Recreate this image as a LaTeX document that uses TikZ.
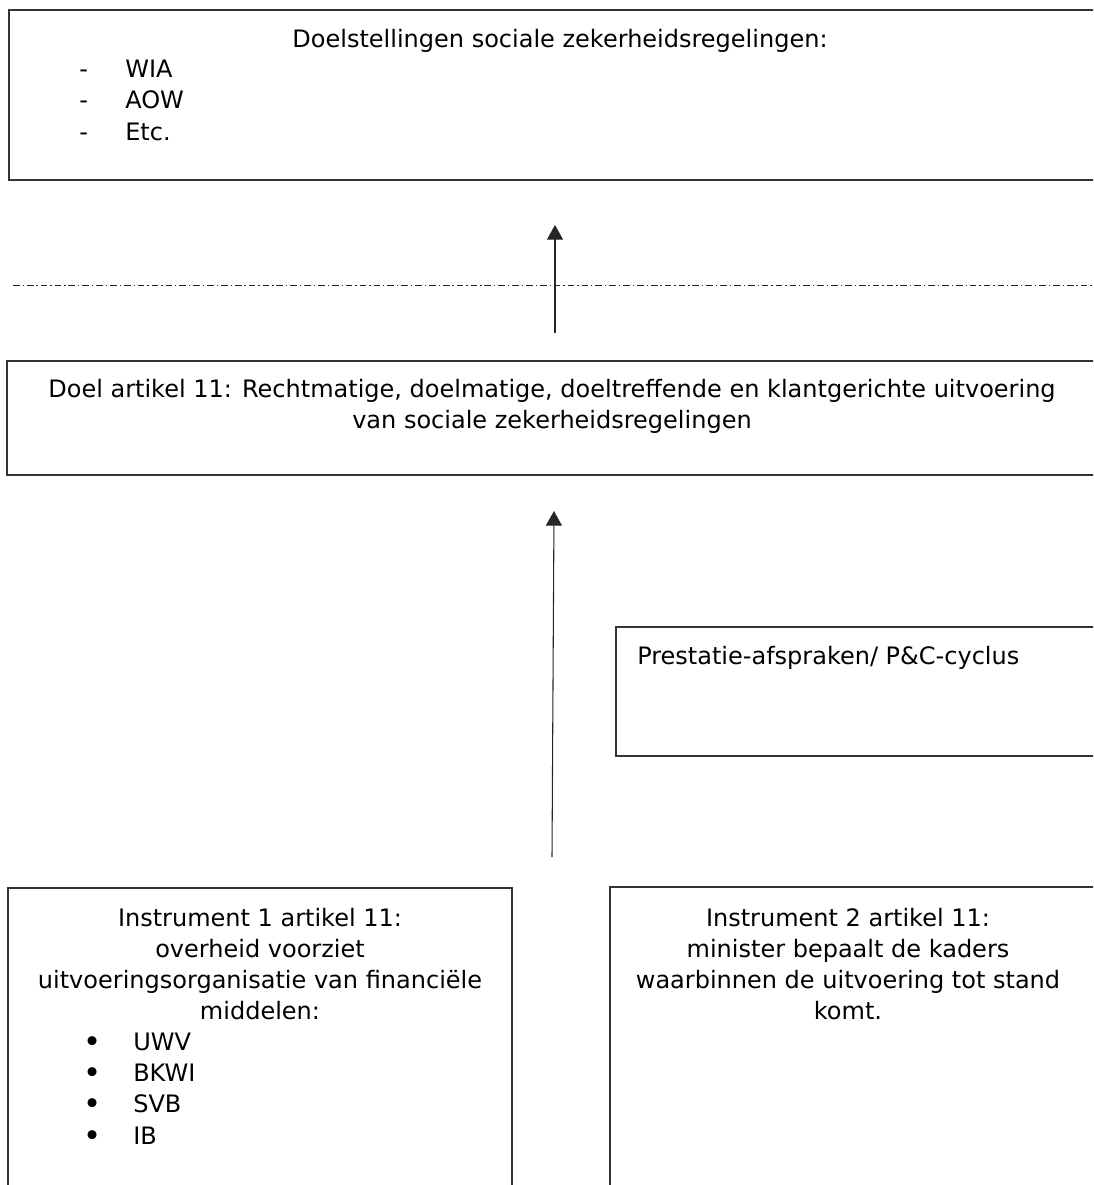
\documentclass[tikz,border=0pt]{standalone}
\usepackage{fontspec}
\setmainfont{DejaVu Sans}
\usetikzlibrary{arrows.meta,fit,positioning}

\begin{document}
\begin{tikzpicture}
    [x=0.75pt,y=-0.75pt,
     box/.style={draw=black!80,line width=0.8pt,rectangle,inner sep=0pt},
     txt/.style={font=\fontsize{18}{23.5}\selectfont,inner sep=0pt,anchor=base},
     lefttxt/.style={txt,anchor=base west},
     dot/.style={lefttxt,font=\fontsize{23}{23.5}\selectfont},
     up/.style={draw=black!85,line width=0.8pt,-{Triangle[width=12pt,length=11pt]}},
     sepline/.style={draw=black!85,line width=0.7pt,
       dash pattern=on 5pt off 2.2pt on 1pt off 2.2pt}]
    \useasboundingbox (0,0) rectangle (1093,1185);
    \clip (0,0) rectangle (1093,1185);

    % boxes
    \node[box,fit={(9,10)(1111,180)}] (goals) {};
    \node[box,fit={(7,361)(1098,475)}] (aim) {};
    \node[box,fit={(616,627)(1110,756)}] (pc) {};
    \node[box,fit={(8,888)(512,1200)}] (instr1) {};
    \node[box,fit={(610,887)(1110,1200)}] (instr2) {};

    % top box
    \node[txt] (goals title) at (560,47) {Doelstellingen sociale zekerheidsregelingen:};
    \foreach \name [count=\i] in {WIA,AOW,Etc.} {
      \node[lefttxt] (goals dash \i) at (79,{45.3+31.7*\i}) {-};
      \node[lefttxt] (goals item \i) at (125,{45.3+31.7*\i}) {\name};
    }

    % separator
    \coordinate (sep west) at (13,285);
    \coordinate (sep east) at (1100,285);
    \draw[sepline] (sep west) -- (sep east);

    % middle box
    \node[txt] (aim line 1) at (552,397)
      {Doel artikel 11: Rechtmatige, doelmatige, doeltreffende en klantgerichte uitvoering};
    \node[txt] (aim line 2) at (552,428) {van sociale zekerheidsregelingen};

    \node[lefttxt] (pc text) at (637,664) {Prestatie-afspraken/ P\&C-cyclus};

    % instruments
    \foreach \line [count=\i] in {Instrument 1 artikel 11:,overheid voorziet,
        uitvoeringsorganisatie van financiële,middelen:} {
      \node[txt] (instr1 line \i) at (260,{894.7+31.3*\i}) {\line};
    }
    \foreach \name [count=\i] in {UWV,BKWI,SVB,IB} {
      \node[dot] (instr1 bullet \i) at (83,{1021+31.3*\i}) {•};
      \node[lefttxt] (instr1 item \i) at (133,{1019+31.3*\i}) {\name};
    }
    \foreach \line [count=\i] in {Instrument 2 artikel 11:,minister bepaalt de kaders,
        waarbinnen de uitvoering tot stand,komt.} {
      \node[txt] (instr2 line \i) at (848,{894.7+31.3*\i}) {\line};
    }

    % arrows
    \coordinate (arrow1 tail) at (555,333);
    \coordinate (arrow1 head) at (555,225);
    \coordinate (arrow2 tail) at (552,857);
    \coordinate (arrow2 head) at (554,511);
    \draw[up] (arrow1 tail) -- (arrow1 head);
    \draw[up] (arrow2 tail) -- (arrow2 head);
\end{tikzpicture}
\end{document}
